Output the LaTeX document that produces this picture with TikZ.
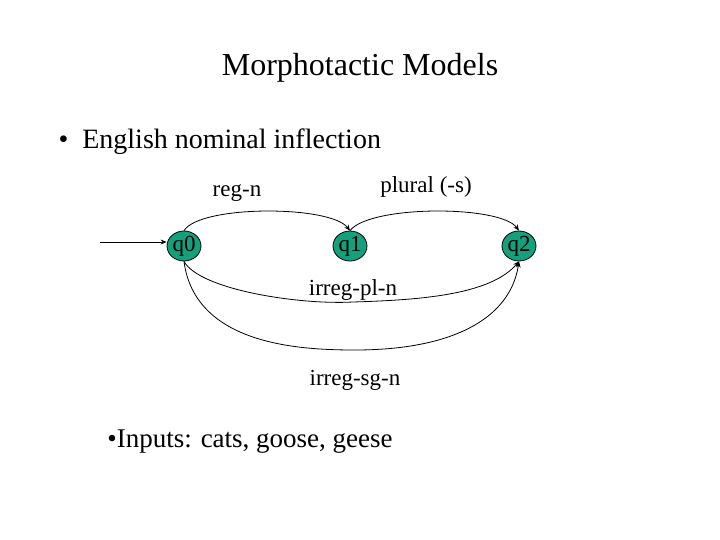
\documentclass[tikz,border=0pt]{standalone}
\usepackage{fontspec}
\setmainfont{Liberation Serif}
\usetikzlibrary{arrows.meta,shapes.geometric}
\definecolor{teal1}{RGB}{20,160,125}
\begin{document}
\begin{tikzpicture}[x=1pt,y=-1pt,
  st/.style={ellipse,draw,thick,fill=teal1,minimum width=34pt,minimum height=30pt,inner sep=0pt,font=\fontsize{23}{25}\selectfont},
  lab/.style={font=\fontsize{23}{25}\selectfont},
  edge/.style={thick,-{Stealth[length=6pt,width=5pt]}}]
\useasboundingbox (0,0) rectangle (720,540);
\node[font=\fontsize{32}{36}\selectfont] (title) at (360,68) {Morphotactic Models};
\node[font=\fontsize{28}{32}\selectfont,anchor=west] (b1) at (55,142) {•\hspace{14pt}English nominal inflection};
\node[st] (q0) at (184,246) {q0};
\node[st] (q1) at (350,246) {q1};
\node[st] (q2) at (519,246) {q2};
\coordinate (init) at (100,242);
\draw[edge] (init) -- (q0.west |- init);
\draw[edge] (q0.north) .. controls (200,205) and (330,205) .. (q1.north);
\draw[edge] (q1.north) .. controls (370,205) and (500,205) .. (q2.north);
\draw[edge] (q0.south) .. controls (200,290) and (300,305) .. (353,302) .. controls (420,300) and (490,295) .. (q2.south);
\draw[edge] (q0.south) .. controls (195,345) and (300,350) .. (355,350) .. controls (450,350) and (510,320) .. (q2.south);
\node[lab] (l1) at (237,193) {reg-n};
\node[lab] (l2) at (426,187) {plural (-s)};
\node[lab] (l3) at (353,290) {irreg-pl-n};
\node[lab] (l4) at (355,380) {irreg-sg-n};
\node[font=\fontsize{27}{31}\selectfont] (inp) at (250,442) {•Inputs: cats, goose, geese};
\end{tikzpicture}
\end{document}
